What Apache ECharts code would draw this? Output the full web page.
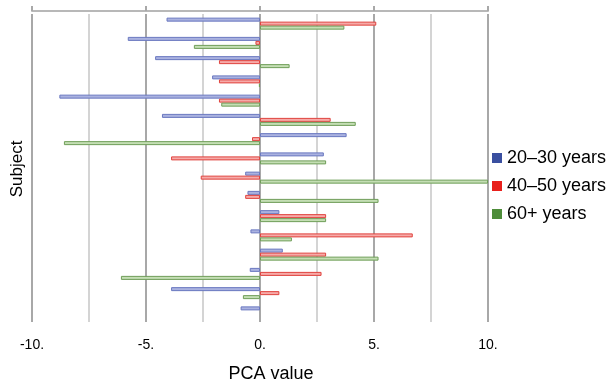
<!DOCTYPE html>
<html><head><meta charset="utf-8">
<script src="https://cdn.jsdelivr.net/npm/echarts@6/dist/echarts.min.js"></script>
<style>html,body{margin:0;padding:0;background:#fff}#c{width:614px;height:388px}</style>
</head><body><div id="c"></div>
<script>
const subjects = ['1','2','3','4','5','6','7','8','9','10','11','12','13','14','15','16'];
const young  = [-4.1,-5.8,-4.6,-2.1,-8.8,-4.3, 3.8, 2.8,-0.65,-0.55,0.85,-0.42,1.0,-0.45,-3.9,-0.85];
const middle = [ 5.1,-0.2,-1.8,-1.8,-1.8, 3.1,-0.35,-3.9,-2.6,-0.65,2.9, 6.7, 2.9, 2.7, 0.85, null];
const senior = [ 3.7,-2.9, 1.3,-0.05,-1.7,4.2,-8.6, 2.9,10.0, 5.2, 2.9, 1.4, 5.2,-6.1,-0.75, null];
const seriesNames = ['20–30 years','40–50 years','60+ years'];
const xTicks = [-10,-5,0,5,10];

const chart = echarts.init(document.getElementById('c'));
const font = 'Liberation Sans, Arial, sans-serif';
function bar(name, data, fill, border){
  return {name, type:'bar', data, barWidth:4, barGap:'0%',
    itemStyle:{color:fill, borderColor:border, borderWidth:1},
    emphasis:{disabled:true}};
}
chart.setOption({
  animation:false,
  grid:{left:32, right:126, top:14, bottom:63},
  legend:{orient:'vertical', left:492, top:149, padding:0, itemWidth:10, itemHeight:10, itemGap:10,
    icon:'rect',
    textStyle:{fontFamily:font, fontSize:18, color:'#000'},
    data:[
      {name:seriesNames[0], itemStyle:{color:'#3a4fa0', borderWidth:0}},
      {name:seriesNames[1], itemStyle:{color:'#e8201c', borderWidth:0}},
      {name:seriesNames[2], itemStyle:{color:'#4e8d3a', borderWidth:0}}
    ]},
  xAxis:[
    {type:'value', min:-10, max:10, interval:2.5, position:'bottom',
     axisLine:{show:false}, axisTick:{show:false},
     splitLine:{show:true, lineStyle:{color:['#a8a8a8','#d4d4d4'], width:2}},
     axisLabel:{margin:16, fontFamily:font, fontSize:14, color:'#000',
       formatter:v => xTicks.includes(v) ? (v + '.') : ''},
     name:'PCA value', nameLocation:'middle', nameGap:43,
     nameTextStyle:{fontFamily:font, fontSize:18, color:'#000', padding:[0,0,0,22]}},
    {type:'value', min:-10, max:10, interval:5, position:'top', offset:3,
     axisLine:{show:true, lineStyle:{color:'#b8b8b8', width:2}},
     axisTick:{show:true, length:5, lineStyle:{color:'#a8a8a8', width:2}},
     axisLabel:{show:false}, splitLine:{show:false}}
  ],
  yAxis:{type:'category', data:subjects, inverse:true,
    axisLine:{show:false}, axisTick:{show:false}, axisLabel:{show:false},
    name:'Subject', nameLocation:'middle', nameGap:6,
    nameTextStyle:{fontFamily:font, fontSize:17, color:'#000', padding:[0,2,0,0]}},
  series:[
    bar(seriesNames[0], young, '#aab2e0', '#6a78c0'),
    bar(seriesNames[1], middle, '#f6aaa8', '#e0433e'),
    bar(seriesNames[2], senior, '#c4deb4', '#6f9e58')
  ]
});
</script></body></html>
